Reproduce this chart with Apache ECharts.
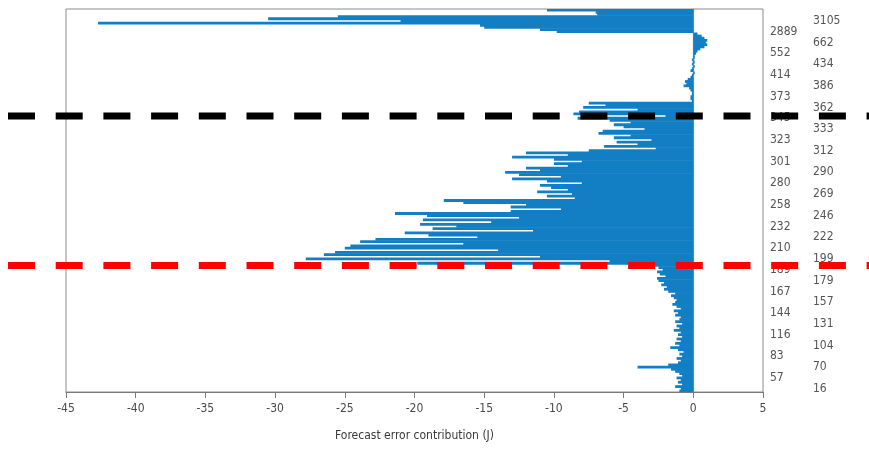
<!DOCTYPE html>
<html>
<head>
<meta charset="utf-8">
<script src="https://cdn.jsdelivr.net/npm/echarts@6/dist/echarts.min.js"></script>
<style>
html,body{margin:0;padding:0;background:#fff;}
#c{width:869px;height:452px;}
</style>
</head>
<body>
<div id="c"></div>
<script>
// Bar values, from the bottom category (index 0) to the top (index 176)
const values = [
  -1.0,-0.9,-1.3,-0.8,-1.1,-0.9,-1.2,-0.8,-1.0,-1.3,
  -1.6,-4.0,-1.8,-1.1,-0.9,-1.2,-0.8,-1.0,-0.7,-1.1,
  -1.65,-1.0,-1.3,-0.9,-1.2,-0.8,-1.1,-0.9,-1.4,-1.0,
  -1.2,-0.8,-1.3,-1.0,-0.9,-1.3,-1.1,-1.4,-0.9,-1.2,
  -1.5,-1.3,-1.2,-1.4,-1.6,-1.3,-1.8,-2.1,-1.9,-2.3,
  -2.1,-2.5,-2.6,-2.0,-2.4,-2.6,-2.2,-2.5,
  -3.0,-19.8,-6.0,-27.8,-11.0,-26.5,-25.7,-14.0,-25.0,-24.6,
  -16.5,-23.9,-22.8,-15.5,-19.0,-20.7,-11.5,-18.7,-17.0,-19.6,
  -14.5,-19.4,-12.5,-19.1,-21.4,-13.1,-9.5,-13.1,-12.0,-16.5,
  -17.9,-8.5,-10.5,-8.7,-11.2,-9.0,-10.2,-11.0,-8.0,-10.5,
  -13.0,-9.5,-12.5,-13.5,-11.0,-12.0,-9.0,-10.0,-8.0,-10.0,
  -13.0,-9.0,-12.0,-7.5,-2.7,-6.4,-4.0,-5.5,-3.0,-5.7,
  -4.5,-6.8,-6.5,-3.5,-5.0,-5.7,-4.5,-6.0,-8.3,-2.0,
  -8.6,-8.2,-4.0,-7.9,-6.3,-7.5,
  -0.1,-0.2,-0.2,-0.1,-0.1,-0.2,-0.3,-0.7,-0.5,-0.6,
  -0.4,-0.2,-0.1,0.1,-0.2,-0.1,0.1,-0.1,0.1,-0.1,
  0.1,0.1,0.2,0.3,0.5,0.8,1.0,0.9,1.0,0.8,
  0.6,0.3,-9.8,-11.0,-15.0,-15.3,-42.7,-21.0,-30.5,-25.5,
  -6.9,-7.0,-10.5
];

// Tick labels shown on the right axis, bottom to top (one every 5 categories, starting at index 1)
const tickLabels = [16,57,70,83,104,116,131,144,157,167,179,189,199,210,222,232,246,258,269,280,290,301,312,323,333,345,362,373,386,414,434,552,662,2889,3105];
const tickStart = 1;
const tickStep = 5;

// Categories (observation slots); labelled ones carry their tick label
const categories = values.map((v, i) =>
  ((i - tickStart) % tickStep === 0 && (i - tickStart) / tickStep < tickLabels.length)
    ? String(tickLabels[(i - tickStart) / tickStep]) : 'o' + i);

// Dashed reference lines (category index, colour)
const refLineIndex = [127, 58];
const refLineColor = ['#000000', '#ff0000'];

const xTicks = { min: -45, max: 5, interval: 5 };

const FONT = "'DejaVu Sans Condensed','Liberation Sans Narrow','Liberation Sans',sans-serif";
const chart = echarts.init(document.getElementById('c'), null, { renderer: 'canvas' });

chart.setOption({
  animation: false,
  backgroundColor: '#ffffff',
  grid: {
    left: 66, right: 106, top: 9, bottom: 60,
    show: true, borderColor: '#8c8c8c', borderWidth: 1, backgroundColor: 'transparent'
  },
  xAxis: {
    type: 'value',
    min: xTicks.min, max: xTicks.max, interval: xTicks.interval,
    splitLine: { show: false },
    axisLine: { show: true, onZero: false, lineStyle: { color: '#7a7a7a', width: 1.2 } },
    axisTick: { show: true, length: 6, lineStyle: { color: '#7a7a7a' } },
    axisLabel: { margin: 11, fontSize: 12, color: '#4a4a4a', fontFamily: FONT },
    name: 'Forecast error contribution (J)',
    nameLocation: 'middle',
    nameGap: 38,
    nameTextStyle: { fontSize: 12, color: '#3a3a3a', fontFamily: FONT }
  },
  yAxis: {
    type: 'category',
    position: 'right',
    data: categories,
    boundaryGap: true,
    axisLine: { show: true, lineStyle: { color: '#8c8c8c', width: 1.2 } },
    axisTick: { show: false },
    splitLine: { show: false },
    axisLabel: {
      interval: (idx) => (idx - tickStart) % tickStep === 0 && (idx - tickStart) / tickStep < tickLabels.length,
      margin: 7,
      align: 'left',
      formatter: (val, idx) => {
        const k = (idx - tickStart) / tickStep;
        return (k % 2 === 0) ? '{b|' + val + '}' : '{a|' + val + '}';
      },
      rich: {
        a: { fontSize: 12, color: '#555555', fontFamily: FONT },
        b: { fontSize: 12, color: '#555555', fontFamily: FONT, padding: [0, 0, 0, 43] }
      }
    }
  },
  series: [{
    type: 'bar',
    data: values,
    barWidth: 2.8,
    itemStyle: { color: '#127ec4' },
    silent: true
  }]
});

const graphics = refLineIndex.map((idx, n) => {
  const y = chart.convertToPixel({ yAxisIndex: 0 }, idx);
  return {
    type: 'line',
    z: 100,
    shape: { x1: 8, y1: y, x2: chart.getWidth(), y2: y },
    style: { stroke: refLineColor[n], lineWidth: 7, lineDash: [27, 20.7] }
  };
});
chart.setOption({ graphic: graphics });
</script>
</body>
</html>
